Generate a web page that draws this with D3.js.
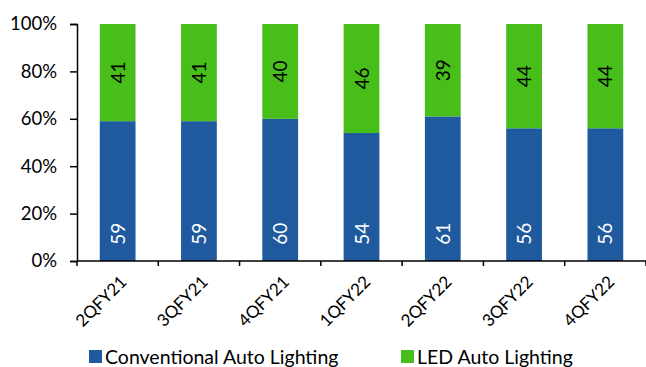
<!DOCTYPE html>
<html>
<head>
<meta charset="utf-8">
<script src="https://cdn.jsdelivr.net/npm/d3@7"></script>
<style>
  body { margin: 0; background: #fff; }
  svg text { font-family: Lato, "Open Sans", sans-serif; }
</style>
</head>
<body>
<div id="container"></div>
<script>
const quarters = ["2QFY21", "3QFY21", "4QFY21", "1QFY22", "2QFY22", "3QFY22", "4QFY22"];
const conventional = [59, 59, 60, 54, 61, 56, 56];
const led = [41, 41, 40, 46, 39, 44, 44];
const yTicks = [0, 20, 40, 60, 80, 100];

const width = 646, height = 367;
const blue = "#1f5a9f", green = "#47be1a";

const svg = d3.select("#container").append("svg")
  .attr("width", width).attr("height", height);

const x = d3.scaleBand().domain(quarters).range([77, 646]).paddingInner(0.56).paddingOuter(0.28);
const y = d3.scaleLinear().domain([0, 100]).range([261, 24]);

const rows = quarters.map((q, i) => ({ q, conv: conventional[i], led: led[i] }));

// bars
const g = svg.append("g");
g.selectAll("rect.conv").data(rows).enter().append("rect")
  .attr("class", "conv")
  .attr("x", d => x(d.q))
  .attr("width", x.bandwidth())
  .attr("y", d => y(d.conv))
  .attr("height", d => y(0) - y(d.conv))
  .attr("fill", blue);

g.selectAll("rect.led").data(rows).enter().append("rect")
  .attr("class", "led")
  .attr("x", d => x(d.q))
  .attr("width", x.bandwidth())
  .attr("y", d => y(d.conv + d.led))
  .attr("height", d => y(d.conv) - y(d.conv + d.led))
  .attr("fill", green);

// value labels
g.selectAll("text.conv").data(rows).enter().append("text")
  .attr("transform", d => `translate(${x(d.q) + x.bandwidth() / 2 + 7},${y(11.5)}) rotate(-90)`)
  .attr("text-anchor", "middle")
  .attr("font-size", 19)
  .attr("fill", "#fff")
  .text(d => d.conv);

g.selectAll("text.led").data(rows).enter().append("text")
  .attr("transform", d => `translate(${x(d.q) + x.bandwidth() / 2 + 7},${y(d.conv + d.led / 2)}) rotate(-90)`)
  .attr("text-anchor", "middle")
  .attr("font-size", 19)
  .attr("fill", "#000")
  .text(d => d.led);

// y axis
const yAxis = svg.append("g")
  .attr("transform", "translate(77,0)")
  .call(d3.axisLeft(y).tickValues(yTicks).tickFormat(d => d + "%").tickSize(7).tickPadding(13));
yAxis.select(".domain").attr("stroke", "#000").attr("stroke-width", 1.5);
yAxis.selectAll(".tick line").attr("stroke", "#000").attr("stroke-width", 1.5);
yAxis.selectAll(".tick text").attr("font-size", 18.5).attr("fill", "#000")
  .attr("font-family", "Lato, sans-serif");

// x axis: ticks at category boundaries
const xAxis = svg.append("g").attr("transform", "translate(0,261)");
xAxis.append("line").attr("x1", 77).attr("x2", 646).attr("stroke", "#000").attr("stroke-width", 1.5);
const bounds = d3.range(quarters.length + 1).map(i => 77 + i * (646 - 77) / quarters.length);
xAxis.selectAll("line.tick").data(bounds).enter().append("line")
  .attr("x1", d => d).attr("x2", d => d)
  .attr("y1", 0).attr("y2", 5)
  .attr("stroke", "#000").attr("stroke-width", 1.5);

xAxis.selectAll("text").data(quarters).enter().append("text")
  .attr("transform", d => `translate(${x(d) + x.bandwidth() / 2 + 10},${22}) rotate(-45)`)
  .attr("text-anchor", "end")
  .attr("font-size", 17)
  .attr("fill", "#000")
  .text(d => d);

// legend
const legendItems = [
  { label: "Conventional Auto Lighting", color: blue, x: 89 },
  { label: "LED Auto Lighting", color: green, x: 401 }
];
const lg = svg.selectAll("g.legend").data(legendItems).enter().append("g")
  .attr("transform", d => `translate(${d.x},350)`);
lg.append("rect").attr("width", 13).attr("height", 13).attr("fill", d => d.color);
lg.append("text").attr("x", 16).attr("y", 14).attr("font-size", 19.5).attr("fill", "#000")
  .text(d => d.label);
</script>
</body>
</html>
